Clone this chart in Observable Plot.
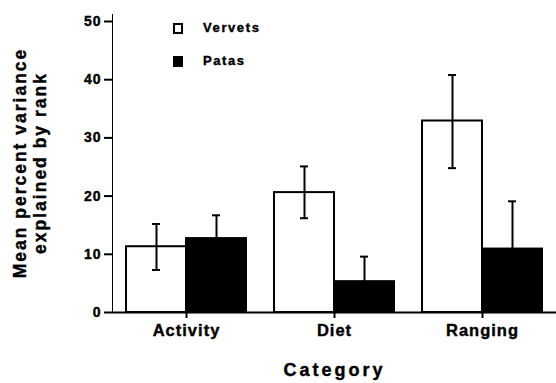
<!DOCTYPE html>
<html>
<head>
<meta charset="utf-8">
<script src="https://cdn.jsdelivr.net/npm/d3@7"></script>
<script src="https://cdn.jsdelivr.net/npm/@observablehq/plot@0.6"></script>
<style>
  html, body { margin: 0; padding: 0; background: #fff; }
  #wrap { position: relative; width: 556px; height: 383px; font-family: "Liberation Sans", Arial, Helvetica, sans-serif; font-weight: bold; color: #000; }
  #wrap svg { font-family: "Liberation Sans", Arial, Helvetica, sans-serif; font-weight: bold; }
  #wrap svg g[aria-label^="y-axis"] path, #wrap svg g[aria-label^="y-axis"] line,
  #wrap svg g[aria-label^="fx-axis"] path, #wrap svg g[aria-label^="fx-axis"] line { stroke-width: 2px; }
  #wrap svg g[aria-label$="label"] text { stroke: #000; stroke-width: 0.4px; }
  #wrap svg g[aria-label="y-axis tick label"] { font-size: 14px; letter-spacing: 1px; }
  #wrap svg g[aria-label="fx-axis tick label"] { font-size: 16.5px; letter-spacing: 1px; }
  #wrap svg g[aria-label="fx-axis label"] { font-size: 18px; letter-spacing: 3px; }
  #ylabel { position: absolute; left: -99px; top: 143px; width: 260px; height: 40px; transform: rotate(-90deg); transform-origin: 130px 20px; text-align: center; font-size: 17.5px; line-height: 19.5px; letter-spacing: 2px; white-space: nowrap; -webkit-text-stroke: 0.4px #000; }
  .leg { position: absolute; font-size: 13px; letter-spacing: 1.6px; -webkit-text-stroke: 0.4px #000; }
  .box { position: absolute; width: 10px; height: 11px; box-sizing: border-box; border: 2px solid #000; }
</style>
</head>
<body>
<div id="wrap"></div>
<script>
const categories = ["Activity", "Diet", "Ranging"];
const species = ["Vervets", "Patas"];
const vervetMean = [11.3, 20.6, 32.9];
const vervetLow  = [7.3, 16.2, 24.8];
const vervetHigh = [15.2, 25.1, 40.8];
const patasMean  = [12.7, 5.3, 10.9];
const patasLow   = [8.7, 1.0, 2.7];
const patasHigh  = [16.7, 9.6, 19.1];
const yTicks = [0, 10, 20, 30, 40, 50];
const speciesFill = ["white", "black"];

const rows = [];
categories.forEach((c, i) => {
  rows.push({category: c, species: "Vervets", mean: vervetMean[i], low: vervetLow[i], high: vervetHigh[i]});
  rows.push({category: c, species: "Patas", mean: patasMean[i], low: patasLow[i], high: patasHigh[i]});
});

const chart = Plot.plot({
  width: 556,
  height: 383,
  marginLeft: 112,
  marginRight: 0,
  marginTop: 14,
  marginBottom: 71,
  style: {background: "white", color: "black", overflow: "visible"},
  fx: {domain: categories, padding: 0, axis: "bottom", tickSize: 6, tickPadding: 6, label: "Category", labelOffset: 63},
  x: {domain: species, paddingInner: 0, paddingOuter: 0.22, axis: null},
  y: {domain: [0, 51.2], ticks: yTicks, tickSize: 8, tickPadding: 3, line: true, label: null},
  color: {domain: species, range: speciesFill},
  marks: [
    Plot.barY(rows, {fx: "category", x: "species", y: "mean", fill: "species", stroke: "black", strokeWidth: 2}),
    Plot.ruleX(rows, {fx: "category", x: "species", y1: "low", y2: "high", stroke: "black", strokeWidth: 2}),
    Plot.tickY(rows, {fx: "category", x: "species", y: "high", stroke: "black", strokeWidth: 2, insetLeft: 26, insetRight: 26}),
    Plot.tickY(rows, {fx: "category", x: "species", y: "low", stroke: "black", strokeWidth: 2, insetLeft: 26, insetRight: 26}),
    Plot.ruleY([0], {stroke: "black", strokeWidth: 2})
  ]
});

const wrap = document.getElementById("wrap");
wrap.appendChild(chart);

const yl = document.createElement("div");
yl.id = "ylabel";
yl.innerHTML = "Mean percent variance<br>explained by rank";
wrap.appendChild(yl);

const legendTops = [23, 56];
species.forEach((s, i) => {
  const b = document.createElement("div");
  b.className = "box";
  b.style.left = "173px";
  b.style.top = legendTops[i] + "px";
  b.style.background = speciesFill[i];
  wrap.appendChild(b);
  const t = document.createElement("div");
  t.className = "leg";
  t.style.left = "203px";
  t.style.top = (legendTops[i] - 3) + "px";
  t.textContent = s;
  wrap.appendChild(t);
});
</script>
</body>
</html>
